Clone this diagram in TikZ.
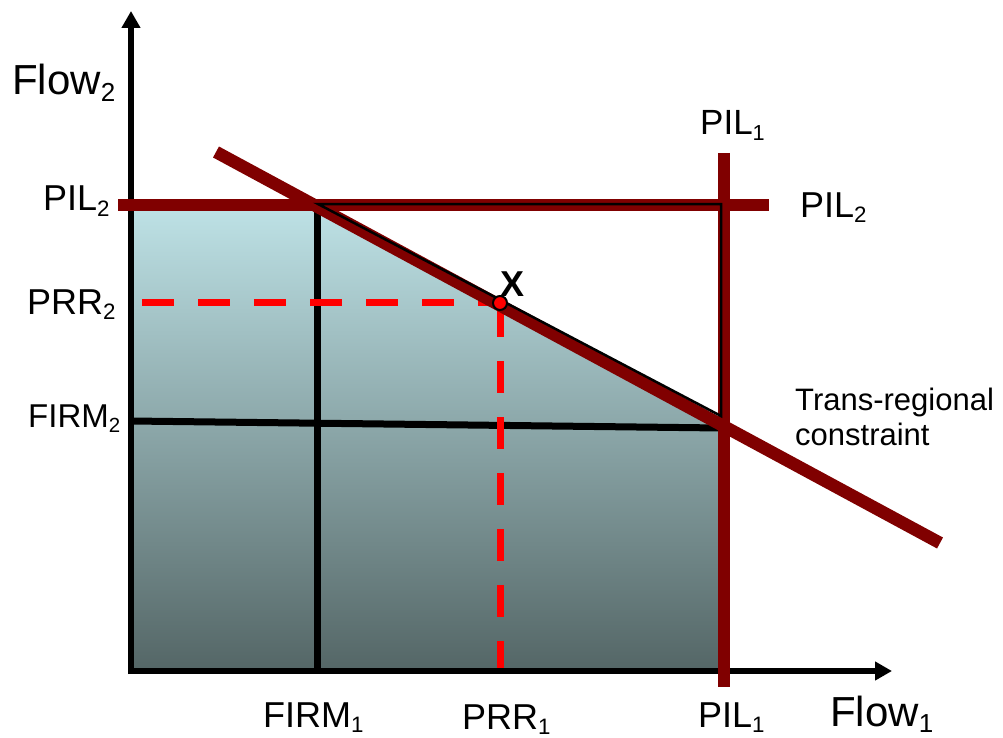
\documentclass[tikz,border=0pt]{standalone}
\usepackage{fontspec}
\setmainfont{Liberation Sans}
\usetikzlibrary{arrows.meta}
\definecolor{pil}{RGB}{128,0,0}
\definecolor{prr}{RGB}{255,0,0}
\definecolor{shtop}{RGB}{190,226,230}
\definecolor{shmid}{RGB}{152,185,187}
\definecolor{shbot}{RGB}{84,102,102}
\newcommand\lsub[1]{\raisebox{-0.16em}{\scalebox{0.62}{#1}}}
\newcommand\fsz[1]{\fontsize{#1}{#1}\selectfont}
\tikzset{
  axisline/.style={line width=6pt, -{Triangle[length=17pt,width=18pt]}},
  firmline/.style={line width=7pt, black},
  pilline/.style={line width=12pt, pil},
  prrline/.style={line width=7pt, prr, dash pattern=on 32pt off 24pt},
  outline/.style={line width=2.5pt, black, line join=miter},
  lbl/.style={inner sep=0pt, anchor=base west},
}
\begin{document}
\begin{tikzpicture}[x=1pt,y=-1pt]
\useasboundingbox (0,0) rectangle (1003,738);

% key coordinates
\coordinate (org) at (131,671);
\coordinate (ytip) at (131,11);
\coordinate (xtip) at (892,671);
\coordinate (c1) at (318,204);
\coordinate (c2) at (721,204);
\coordinate (c3) at (721,416);

% shaded feasible region
\shade[top color=shtop, middle color=shmid, bottom color=shbot]
  (131,205) -- (318,205) -- (721,418) -- (721,671) -- (131,671) -- cycle;

% axes
\draw[axisline] (131,674) -- (ytip);
\draw[axisline] (128,671) -- (xtip);

% FIRM lines
\coordinate (f1t) at (317,205);
\coordinate (f1b) at (317,671);
\draw[firmline] (f1t) -- (f1b);
\coordinate (f2l) at (131,421);
\coordinate (f2r) at (721,428);
\draw[firmline] (f2l) -- (f2r);

% PRR dashed lines
\coordinate (xp) at (500,303);
\coordinate (prrl) at (142,302);
\coordinate (prrb) at (500,668);
\draw[prrline] (prrl) -- (500,302);
\draw[prrline] (500,305) -- (prrb);

% PIL lines and trans-regional constraint
\coordinate (p2l) at (118,205);
\coordinate (p2r) at (769,205);
\draw[pilline] (p2l) -- (p2r);
\coordinate (p1t) at (724,153);
\coordinate (p1b) at (724,687);
\draw[pilline] (p1t) -- (p1b);
\coordinate (trs) at (216,152);
\coordinate (tre) at (940,543);
\draw[line width=12.5pt, pil] (trs) -- (tre);

% black outline of the white triangle
\draw[outline] (c1) -- (c2) -- (c3) -- cycle;

% operating point X
\node[circle, fill=prr, draw=black, line width=2pt, minimum size=14pt, inner sep=0pt] (xpt) at (xp) {};
\node[inner sep=0pt, font=\fsz{36}\bfseries] (xlbl) at (512,284) {X};

% labels
\node[lbl, font=\fsz{42}] (flow2) at (12,95) {Flow\lsub{2}};
\node[lbl, font=\fsz{36}] (pil2l) at (43,211) {PIL\lsub{2}};
\node[lbl, font=\fsz{36}] (prr2) at (27,314) {PRR\lsub{2}};
\node[lbl, font=\fsz{33}] (firm2) at (28,427) {FIRM\lsub{2}};
\node[lbl, font=\fsz{35}] (pil1t) at (700,135) {PIL\lsub{1}};
\node[lbl, font=\fsz{36}] (pil2r) at (800,217) {PIL\lsub{2}};
\node[lbl, font=\fsz{31}] (trans) at (795,410) {Trans-regional};
\node[lbl, font=\fsz{31}] (constr) at (795,445) {constraint};
\node[lbl, font=\fsz{36}] (firm1) at (263,727) {FIRM\lsub{1}};
\node[lbl, font=\fsz{36}] (prr1) at (462,729) {PRR\lsub{1}};
\node[lbl, font=\fsz{36}] (pil1b) at (698,727) {PIL\lsub{1}};
\node[lbl, font=\fsz{42}] (flow1) at (830,726) {Flow\lsub{1}};
\end{tikzpicture}
\end{document}
